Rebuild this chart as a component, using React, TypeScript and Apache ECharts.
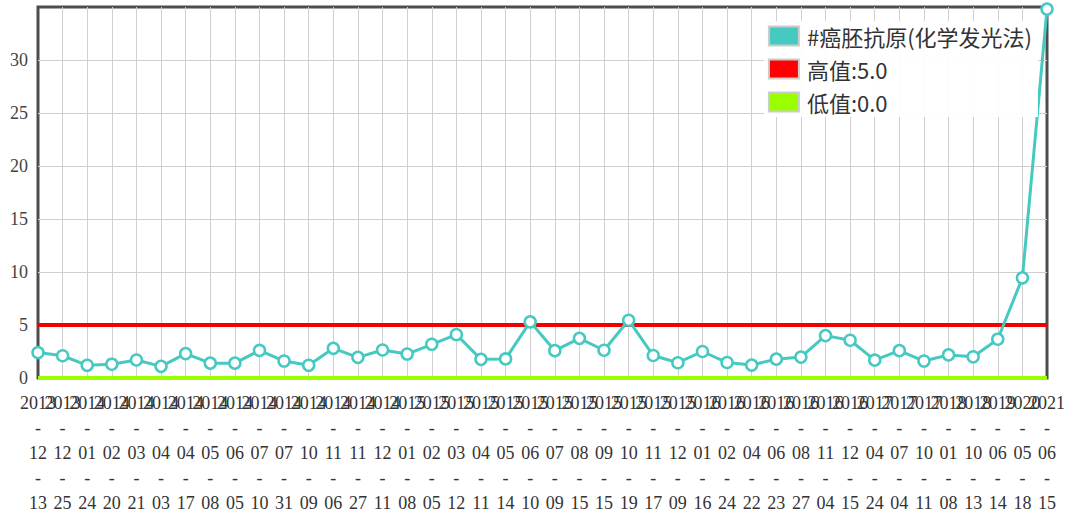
import React, { useEffect, useRef } from "react";
import * as echarts from "echarts";

const categories: string[] = [
  "2013-12-13", "2013-12-25", "2014-01-24", "2014-02-20", "2014-03-21", "2014-04-03",
  "2014-04-17", "2014-05-08", "2014-06-05", "2014-07-10", "2014-07-31", "2014-10-09",
  "2014-11-06", "2014-11-27", "2014-12-11", "2015-01-08", "2015-02-05", "2015-03-12",
  "2015-04-11", "2015-05-14", "2015-06-10", "2015-07-09", "2015-08-15", "2015-09-15",
  "2015-10-19", "2015-11-17", "2015-12-09", "2016-01-16", "2016-02-24", "2016-04-22",
  "2016-06-23", "2016-08-27", "2016-11-04", "2016-12-15", "2017-04-24", "2017-07-04",
  "2017-10-11", "2018-01-08", "2018-10-13", "2019-06-14", "2020-05-18", "2021-06-15",
];

const cea: number[] = [
  2.4, 2.1, 1.2, 1.3, 1.7, 1.1, 2.3, 1.4, 1.4, 2.6, 1.6, 1.2, 2.8, 1.95,
  2.64, 2.26, 3.18, 4.1, 1.76, 1.8, 5.3, 2.58, 3.74, 2.62, 5.45, 2.12, 1.44,
  2.5, 1.46, 1.22, 1.78, 1.97, 4.0, 3.56, 1.68, 2.58, 1.6, 2.18, 2.0, 3.66, 9.45, 34.8,
];

const HIGH = 5.0;
const LOW = 0.0;

const seriesName = "#癌胚抗原(化学发光法)";
const highName = "高值:5.0";
const lowName = "低值:0.0";

const yTicks = { min: 0, max: 35, interval: 5 };

const TEAL = "#45c9c0";
const RED = "#f00000";
const GREEN = "#99ff00";

export default function App() {
  const ref = useRef<HTMLDivElement>(null);
  useEffect(() => {
    document.body.style.margin = "0";
    const chart = echarts.init(ref.current!, null, { renderer: "svg" });
    const serif = "'Liberation Serif', 'Times New Roman', serif";
    const swatch = (c: string) => ({ color: c, borderColor: "#cccccc", borderWidth: 2 });
    chart.setOption({
      animation: false,
      backgroundColor: "#fff",
      grid: {
        left: 38,
        right: 33,
        top: 7,
        bottom: 139,
        show: true,
        borderColor: "#4d4d4d",
        borderWidth: 3,
        containLabel: false,
      },
      legend: {
        right: 42,
        top: 21,
        orient: "vertical",
        itemWidth: 30,
        itemHeight: 19,
        itemGap: 11,
        backgroundColor: "rgba(255,255,255,0.93)",
        padding: [4, 6, 4, 4],
        icon: "rect",
        textStyle: {
          fontSize: 22,
          color: "#333",
          padding: [0, 0, 0, 3],
          fontFamily: "'Noto Sans CJK SC', 'Liberation Serif', serif",
        },
        data: [
          { name: seriesName, itemStyle: swatch(TEAL) },
          { name: highName, itemStyle: swatch("#ff0000") },
          { name: lowName, itemStyle: swatch(GREEN) },
        ],
      },
      xAxis: {
        type: "category",
        data: categories,
        boundaryGap: false,
        axisLine: { show: false },
        axisTick: { show: false },
        splitLine: {
          show: true,
          showMinLine: false,
          showMaxLine: false,
          lineStyle: { color: "#d0d0d0", width: 1 },
        },
        axisLabel: {
          interval: 0,
          margin: 12,
          fontSize: 18,
          lineHeight: 25,
          color: "#333",
          fontFamily: serif,
          formatter: (v: string) => v.split("-").join("\n-\n"),
        },
      },
      yAxis: {
        type: "value",
        min: yTicks.min,
        max: yTicks.max,
        interval: yTicks.interval,
        axisLine: { show: false },
        axisTick: { show: false },
        splitLine: {
          show: true,
          showMinLine: false,
          showMaxLine: false,
          lineStyle: { color: "#cfcfcf", width: 1 },
        },
        axisLabel: {
          showMaxLabel: false,
          margin: 10,
          fontSize: 18,
          color: "#444",
          fontFamily: serif,
        },
      },
      series: [
        {
          name: lowName,
          type: "line",
          data: categories.map(() => LOW),
          symbol: "none",
          color: GREEN,
          lineStyle: { color: GREEN, width: 4 },
          z: 2,
        },
        {
          name: highName,
          type: "line",
          data: categories.map(() => HIGH),
          symbol: "none",
          color: "#ff0000",
          lineStyle: { color: RED, width: 4 },
          z: 2,
        },
        {
          name: seriesName,
          type: "line",
          data: cea,
          symbol: "circle",
          symbolSize: 11,
          color: TEAL,
          lineStyle: { color: TEAL, width: 3 },
          itemStyle: { color: "#fff", borderColor: TEAL, borderWidth: 2.5 },
          z: 3,
        },
      ],
    });
    return () => chart.dispose();
  }, []);
  return <div ref={ref} style={{ width: 1080, height: 517 }} />;
}
